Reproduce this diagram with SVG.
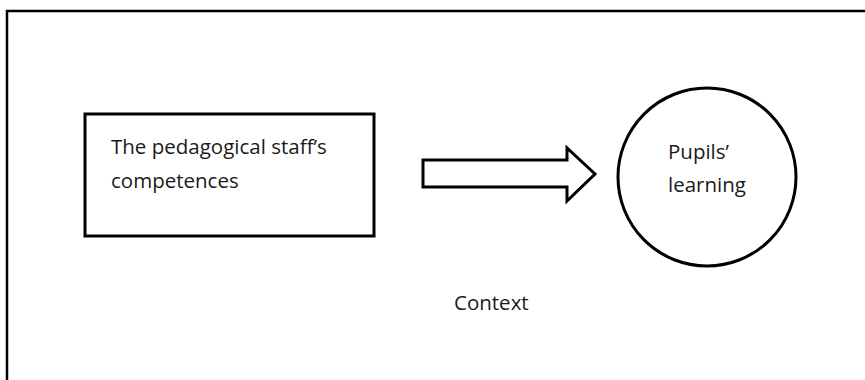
<svg xmlns="http://www.w3.org/2000/svg" width="865" height="380" viewBox="0 0 865 380">
  <style>
    .frame { fill: none; stroke: #000; stroke-width: 2.5; }
    .shape { fill: #fff; stroke: #000; stroke-width: 3; }
    .label { font-family: "Open Sans", "Liberation Sans", sans-serif; font-size: 20.5px; fill: #1a1a1a; }
  </style>
  <rect width="865" height="380" fill="#fff"/>
  <!-- surrounding context frame -->
  <g id="context">
    <rect class="frame" x="7" y="11" width="880" height="400"/>
    <text class="label" x="454" y="310">Context</text>
  </g>
  <g id="staff">
    <rect class="shape" x="85" y="114" width="289" height="122"/>
    <text class="label" x="111" y="154">The pedagogical staff’s</text>
    <text class="label" x="111" y="188">competences</text>
  </g>
  <g id="connectors">
    <path class="shape" stroke-width="2.5" d="M423,160 H567 V148 L595,174 L567,201 V187 H423 Z"/>
  </g>
  <g id="pupils">
    <circle class="shape" cx="707" cy="177" r="89"/>
    <text class="label" x="668" y="159">Pupils’</text>
    <text class="label" x="668" y="192">learning</text>
  </g>
</svg>
